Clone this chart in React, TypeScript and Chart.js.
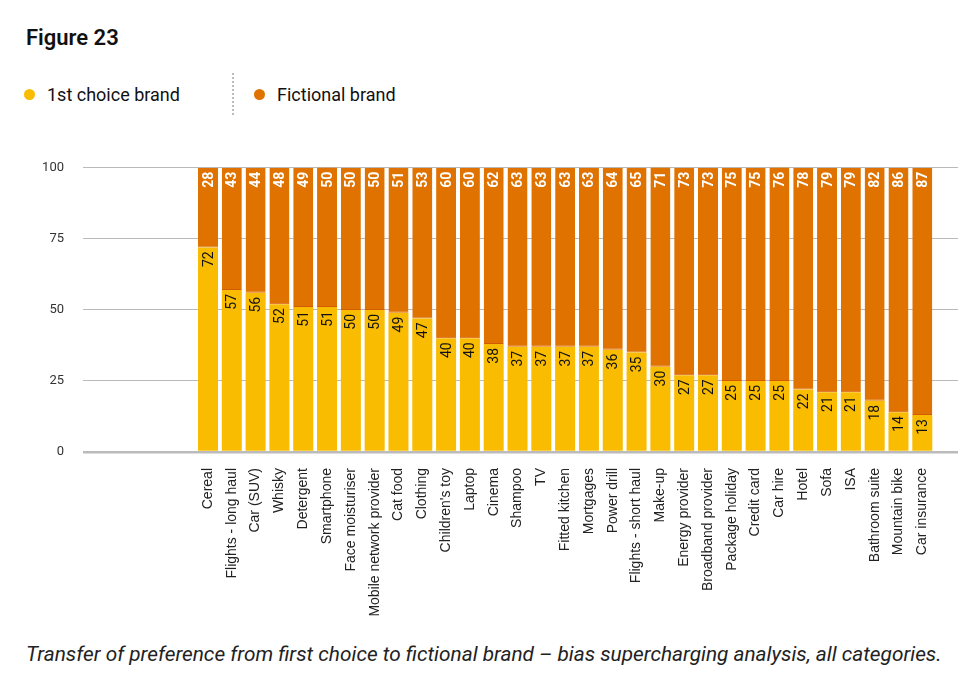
import { useEffect, useRef } from "react";
import { Chart, registerables, type ChartConfiguration, type Plugin } from "chart.js";

Chart.register(...registerables);

const categories = [
  "Cereal", "Flights - long haul", "Car (SUV)", "Whisky", "Detergent", "Smartphone",
  "Face moisturiser", "Mobile network provider", "Cat food", "Clothing", "Children's toy",
  "Laptop", "Cinema", "Shampoo", "TV", "Fitted kitchen", "Mortgages", "Power drill",
  "Flights - short haul", "Make-up", "Energy provider", "Broadband provider",
  "Package holiday", "Credit card", "Car hire", "Hotel", "Sofa", "ISA", "Bathroom suite",
  "Mountain bike", "Car insurance",
];

const firstChoice = [72, 57, 56, 52, 51, 51, 50, 50, 49, 47, 40, 40, 38, 37, 37, 37, 37, 36, 35, 30, 27, 27, 25, 25, 25, 22, 21, 21, 18, 14, 13];
const fictional = [28, 43, 44, 48, 49, 50, 50, 50, 51, 53, 60, 60, 62, 63, 63, 63, 63, 64, 65, 71, 73, 73, 75, 75, 76, 78, 79, 79, 82, 86, 87];

const yTicks = [0, 25, 50, 75, 100];

const YELLOW = "#F9BC00";
const ORANGE = "#E07200";

// rotated value labels at the top of each segment
const valueLabels: Plugin<"bar"> = {
  id: "valueLabels",
  afterDraw(chart) {
    const { ctx, chartArea } = chart;
    chart.data.datasets.forEach((ds, di) => {
      const meta = chart.getDatasetMeta(di);
      meta.data.forEach((el: any, i) => {
        const v = ds.data[i] as any;
        const top = Math.max(el.y, chartArea.top);
        ctx.save();
        ctx.translate(el.x, top + 4);
        ctx.rotate(-Math.PI / 2);
        ctx.textAlign = "right";
        ctx.textBaseline = "middle";
        ctx.font = di === 1 ? "bold 14px Roboto" : "14px Roboto";
        ctx.fillStyle = di === 1 ? "#FFFFFF" : "#111111";
        ctx.fillText(String(v.y), 0, 1);
        ctx.restore();
      });
    });
  },
};

function BarChart() {
  const canvasRef = useRef<HTMLCanvasElement>(null);
  const chartRef = useRef<Chart | null>(null);

  useEffect(() => {
    const ctx = canvasRef.current?.getContext("2d");
    if (!ctx) return;
    chartRef.current?.destroy();

    const config: ChartConfiguration<"bar"> = {
      type: "bar",
      data: {
        datasets: [
          {
            label: "1st choice brand",
            data: firstChoice.map((y, i) => ({ x: i, y })),
            backgroundColor: YELLOW,
            barPercentage: 0.84,
            categoryPercentage: 1,
          },
          {
            label: "Fictional brand",
            data: fictional.map((y, i) => ({ x: i, y })),
            backgroundColor: ORANGE,
            borderColor: "#D45A08",
            borderWidth: { top: 0, left: 0, right: 0, bottom: 1 },
            borderSkipped: false,
            barPercentage: 0.84,
            categoryPercentage: 1,
          },
        ] as any,
      },
      options: {
        responsive: false,
        animation: false,
        layout: { padding: { top: 10, right: 3, left: 0, bottom: 0 } },
        plugins: {
          legend: { display: false },
          tooltip: { enabled: false },
        },
        scales: {
          x: {
            type: "linear",
            stacked: true,
            offset: false,
            min: -5.25,
            max: 31.5,
            afterBuildTicks: (scale) => {
              scale.ticks = categories.map((_, i) => ({ value: i }));
            },
            afterFit: (scale) => {
              scale.height = 170;
            },
            grid: { display: false, drawTicks: false },
            border: { display: false },
            ticks: {
              autoSkip: false,
              minRotation: 90,
              maxRotation: 90,
              padding: 16,
              color: "#222222",
              font: { family: "Liberation Sans", size: 14 },
              callback: (v) => categories[v as number] ?? "",
            },
          },
          y: {
            stacked: true,
            min: 0,
            max: 100,
            z: 1,
            afterBuildTicks: (scale) => {
              scale.ticks = yTicks.map((value) => ({ value }));
            },
            afterFit: (scale) => {
              scale.width = 83;
            },
            grid: {
              drawTicks: false,
              color: (c) => (c.tick.value === 0 ? "#BBBBBB" : "rgba(0,0,0,0.27)"),
              lineWidth: (c) => (c.tick.value === 0 ? 2.5 : 1),
            },
            border: { display: false },
            ticks: {
              padding: 19,
              color: "#333333",
              font: { family: "Roboto", size: 13 },
            },
          },
        },
      },
      plugins: [valueLabels],
    };

    chartRef.current = new Chart(ctx, config);
    return () => chartRef.current?.destroy();
  }, []);

  return <canvas ref={canvasRef} width={961} height={481} style={{ position: "absolute", left: 0, top: 141, width: 961, height: 481 }} />;
}

export default function App() {
  const dot = (color: string) => ({
    display: "inline-block",
    width: 11,
    height: 11,
    borderRadius: "50%",
    background: color,
    marginRight: 12,
  });
  return (
    <div style={{ position: "absolute", left: 0, top: 0, width: 961, height: 687, background: "#fff", fontFamily: "Roboto", color: "#111" }}>
      <div style={{ position: "absolute", left: 26, top: 25, fontSize: 22, fontWeight: 600 }}>Figure 23</div>
      <div style={{ position: "absolute", left: 24, top: 84, fontSize: 18, display: "flex", alignItems: "center" }}>
        <span style={dot(YELLOW)} />
        <span>1st choice brand</span>
      </div>
      <div style={{ position: "absolute", left: 232, top: 73, height: 42, borderLeft: "2px dotted #BBBBBB" }} />
      <div style={{ position: "absolute", left: 254, top: 84, fontSize: 18, display: "flex", alignItems: "center" }}>
        <span style={dot(ORANGE)} />
        <span>Fictional brand</span>
      </div>
      <BarChart />
      <div style={{ position: "absolute", left: 26, top: 642, fontSize: 20.8, fontStyle: "italic", color: "#222", whiteSpace: "nowrap" }}>
        Transfer of preference from first choice to fictional brand – bias supercharging analysis, all categories.
      </div>
    </div>
  );
}
